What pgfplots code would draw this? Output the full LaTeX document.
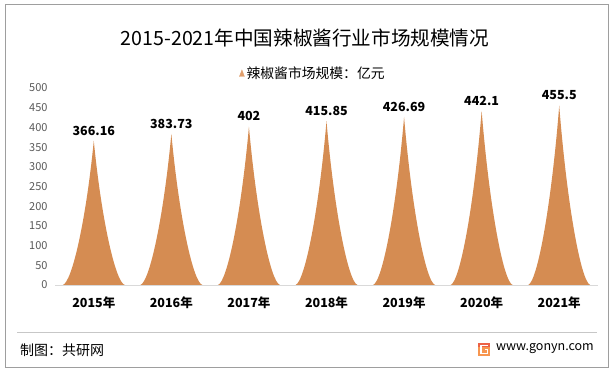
\documentclass[border=0pt]{standalone}
\usepackage{fontspec}
\setmainfont{Noto Sans CJK SC}
\usepackage{pgfplots}
\pgfplotsset{compat=1.18}
\definecolor{spikecol}{RGB}{213,140,82}
\definecolor{legcol}{RGB}{224,158,108}
\definecolor{tickgray}{RGB}{89,89,89}
\definecolor{logoA}{RGB}{247,150,80}
\definecolor{logoB}{RGB}{236,98,70}
\pgfdeclareplotmark{spike}{%
  \pgfmathsetmacro\spikeh{\spikeval*0.394}%
  \pgfsetfillcolor{spikecol}%
  \pgfpathmoveto{\pgfpoint{-31pt}{-\spikeh pt}}%
  \pgfpathcurveto{\pgfpoint{-21.7pt}{-0.98*\spikeh pt}}{\pgfpoint{-7.75pt}{-0.55*\spikeh pt}}{\pgfpoint{0pt}{0pt}}%
  \pgfpathcurveto{\pgfpoint{7.75pt}{-0.55*\spikeh pt}}{\pgfpoint{21.7pt}{-0.98*\spikeh pt}}{\pgfpoint{31pt}{-\spikeh pt}}%
  \pgfpathclose
  \pgfusepathqfill
}
\begin{document}
\begin{tikzpicture}
\path[use as bounding box] (0pt,0pt) rectangle (615pt,372pt);
\draw[line width=1pt, black!38] (5.5pt,4.5pt) rectangle (608pt,367.5pt);
\node[font=\fontsize{19.6}{21}\selectfont] at (305pt,334pt) {2015-2021年中国辣椒酱行业市场规模情况};
\draw[black!22, line width=0.8pt] (17pt,40pt) -- (597pt,40pt);
\node[anchor=west, font=\fontsize{14}{16}\selectfont, inner sep=0pt] at (20pt,22pt) {制图：共研网};
\node[anchor=east, font=\fontsize{12.5}{14}\selectfont, inner sep=0pt] at (594pt,23pt) {www.gonyn.com};
\fill[logoA] (478pt,16pt) rectangle (490pt,29pt);
\fill[logoB] (478pt,25pt) rectangle (490pt,29pt);
\draw[white, line width=1.6pt] (487.5pt,26.5pt) -- (481pt,26.5pt) -- (481pt,18.5pt) -- (487.5pt,18.5pt) -- (487.5pt,22.5pt) -- (484.5pt,22.5pt);
\begin{axis}[
  at={(55pt,87pt)}, anchor=south west, scale only axis,
  width=543pt, height=197pt,
  xmin=-0.5, xmax=6.5, ymin=0, ymax=500,
  ytick={0,50,...,500}, xtick={0,...,6},
  xticklabels={2015年,2016年,2017年,2018年,2019年,2020年,2021年},
  axis x line*=bottom, axis y line*=left,
  y axis line style={draw=none},
  x axis line style={draw=black!15, line width=0.8pt},
  tick style={draw=none},
  /pgf/number format/assume math mode=true,
  yticklabel style={font=\fontsize{11}{12}\selectfont, text=tickgray, xshift=-4pt},
  xticklabel style={font=\bfseries\fontsize{12.5}{14}\selectfont, yshift=-8pt},
  clip=false,
  legend style={at={(0.475,1)}, anchor=center, yshift=15pt, draw=none, fill=none,
    font=\fontsize{13.8}{15}\selectfont},
  legend image code/.code={\fill[legcol] (0pt,-3.5pt) -- (2.5pt,3pt) -- (5pt,-3.5pt) -- cycle;},
]
\addplot[scatter, only marks, mark=spike,
  visualization depends on={value \thisrow{v} \as \spikeval},
  scatter/@pre marker code/.code={},
  scatter/@post marker code/.code={},
  nodes near coords,
  every node near coord/.append style={font=\bfseries\fontsize{12.5}{14}\selectfont, text=black, anchor=south, yshift=2pt},
] table[x=x, y=v] {
x v
0 366.16
1 383.73
2 402
3 415.85
4 426.69
5 442.1
6 455.5
};
\addlegendentry{辣椒酱市场规模：亿元}
\end{axis}
\end{tikzpicture}
\end{document}
